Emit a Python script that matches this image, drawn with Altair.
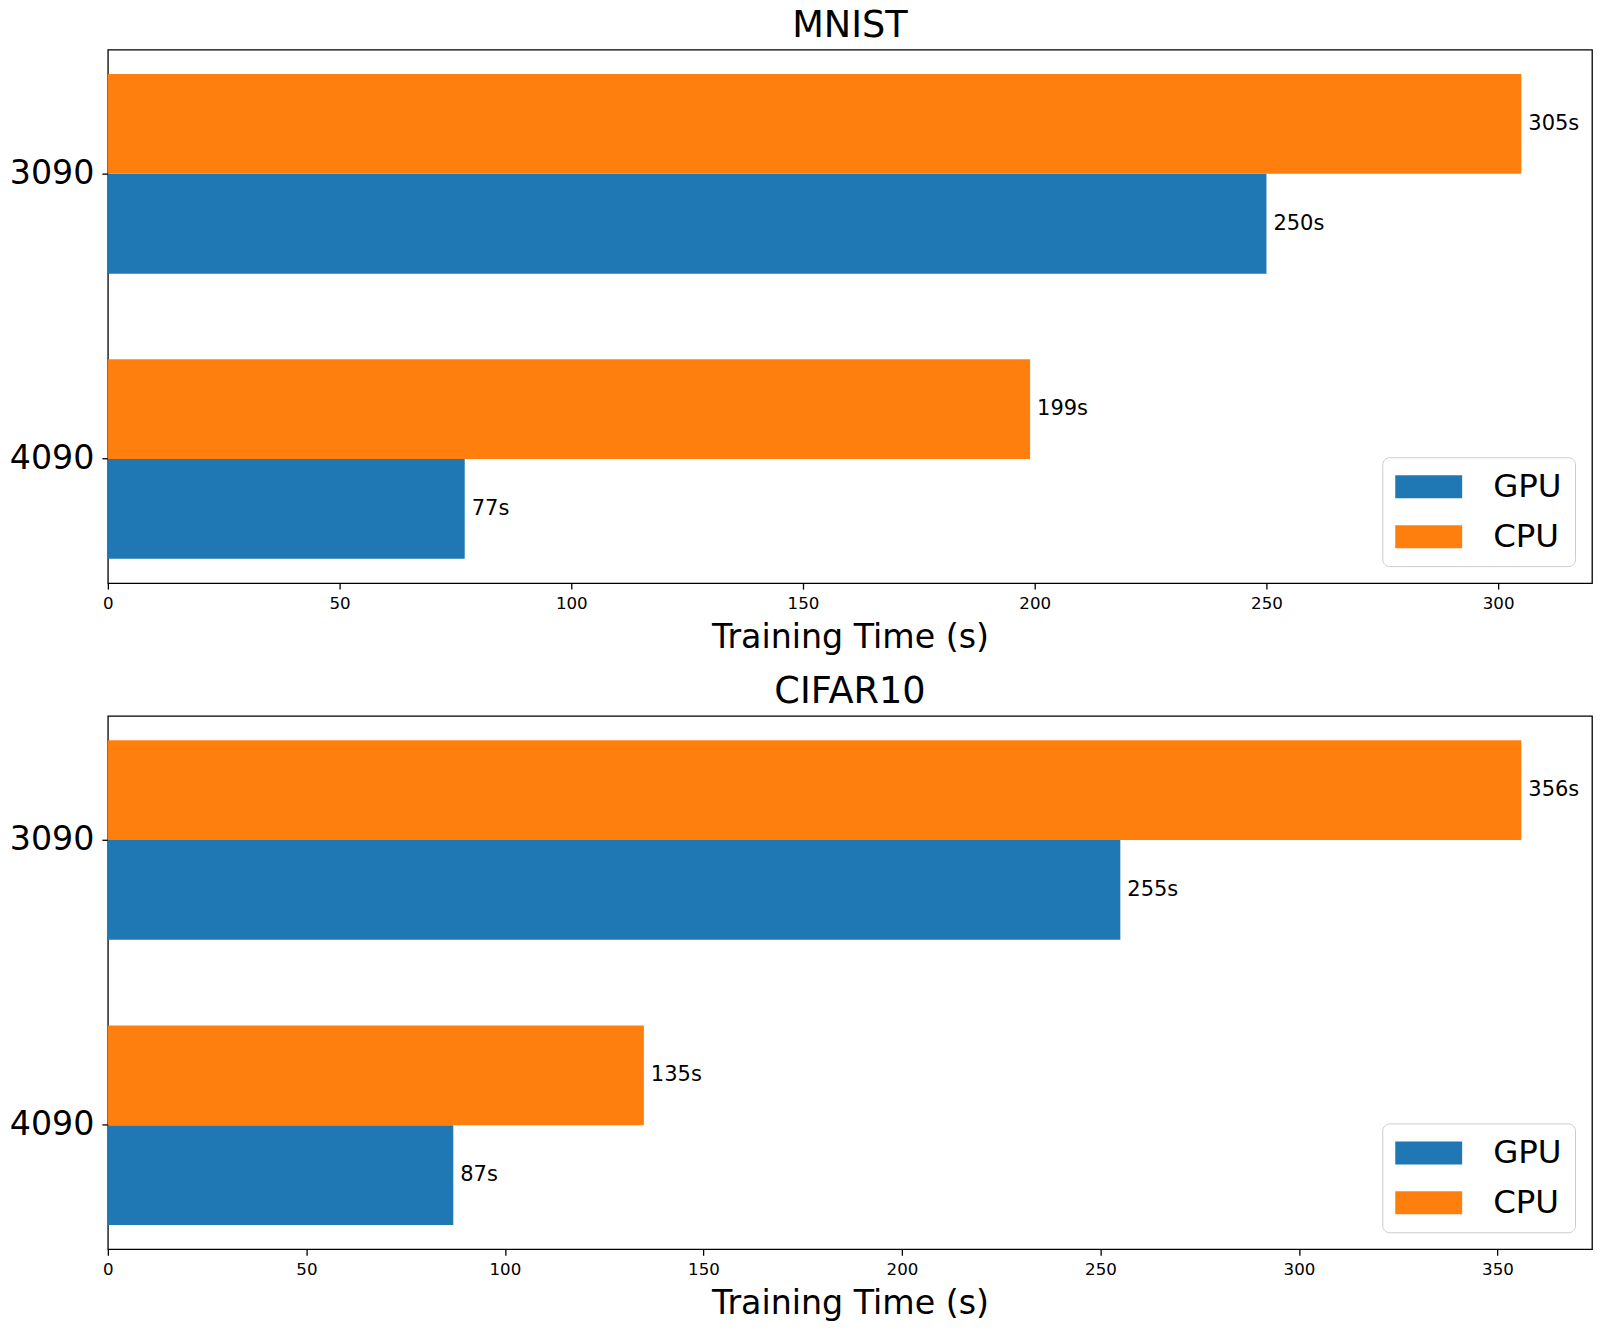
import altair as alt
import pandas as pd

# Training time per graphics card, in seconds
cards = ["3090", "4090"]
devices = ["GPU", "CPU"]
device_colors = ["#1f77b4", "#ff7f0e"]

mnist_gpu = [250, 77]
mnist_cpu = [305, 199]
cifar_gpu = [255, 87]
cifar_cpu = [356, 135]

mnist_ticks = [0, 50, 100, 150, 200, 250, 300]
cifar_ticks = [0, 50, 100, 150, 200, 250, 300, 350]

FONT = "DejaVu Sans"
PLOT_W, PLOT_H = 1486, 534

# wide flat swatch for the legend entries (unit = half the symbol size)
SWATCH = "M-1,-0.697L3.06,-0.697L3.06,0.697L-1,0.697Z"


def panel(title, gpu_vals, cpu_vals, ticks, title_offset):
    df = pd.DataFrame({
        "card": cards + cards,
        "device": ["GPU"] * len(cards) + ["CPU"] * len(cards),
        "time": gpu_vals + cpu_vals,
    })
    xmax = max(gpu_vals + cpu_vals) * 1.05

    base = alt.Chart(df).encode(
        x=alt.X(
            "time:Q",
            scale=alt.Scale(domain=[0, xmax], nice=False, zero=True),
            axis=alt.Axis(
                values=ticks,
                title="Training Time (s)",
                titleFontSize=33.3,
                titleFontWeight="normal",
                titlePadding=10,
                labelFontSize=16.7,
                labelPadding=6,
                labelFlush=False,
            ),
        ),
        y=alt.Y(
            "card:N",
            sort=cards,
            scale=alt.Scale(paddingInner=0.3, paddingOuter=0.085),
            axis=alt.Axis(title=None, labelFontSize=33.3, labelPadding=8),
        ),
        yOffset=alt.YOffset(
            "device:N",
            sort=["CPU", "GPU"],
            scale=alt.Scale(paddingInner=0, paddingOuter=0),
        ),
    )

    bars = base.mark_bar().encode(
        color=alt.Color(
            "device:N",
            scale=alt.Scale(domain=devices, range=device_colors),
            legend=alt.Legend(
                title=None,
                orient="none",
                legendX=1276,
                legendY=408,
                fillColor="white",
                strokeColor="#cccccc",
                cornerRadius=7,
                padding=13,
                symbolType=SWATCH,
                symbolSize=1089,
                symbolStrokeWidth=0,
                symbolOpacity=1,
                labelFontSize=32.5,
                labelOffset=65,
                rowPadding=17,
            ),
        )
    )

    labels = base.mark_text(
        align="left", baseline="middle", dx=7, fontSize=21, color="black"
    ).transform_calculate(
        label="datum.time + 's'"
    ).encode(text="label:N")

    return (bars + labels).properties(
        width=PLOT_W,
        height=PLOT_H,
        title=alt.TitleParams(
            title, fontSize=36.7, fontWeight="normal", offset=title_offset, anchor="middle"
        ),
    )


top = panel("MNIST", mnist_gpu, mnist_cpu, mnist_ticks, 5)
bottom = panel("CIFAR10", cifar_gpu, cifar_cpu, cifar_ticks, 5)

chart = (
    alt.vconcat(top, bottom, spacing=18)
    .resolve_scale(x="independent", color="independent")
    .resolve_legend(color="independent")
    .properties(padding={"left": 8, "top": 6, "right": 7, "bottom": 8})
    .configure(font=FONT)
    .configure_view(stroke="black", strokeWidth=1.3)
    .configure_axis(
        grid=False,
        domain=False,
        tickColor="black",
        tickWidth=1.3,
        tickSize=6,
        labelColor="black",
        titleColor="black",
        labelFont=FONT,
        titleFont=FONT,
    )
    .configure_title(font=FONT, color="black")
    .configure_legend(labelFont=FONT, labelColor="black")
)

chart.save("out.html", embed_options={"renderer": "svg", "actions": False})
